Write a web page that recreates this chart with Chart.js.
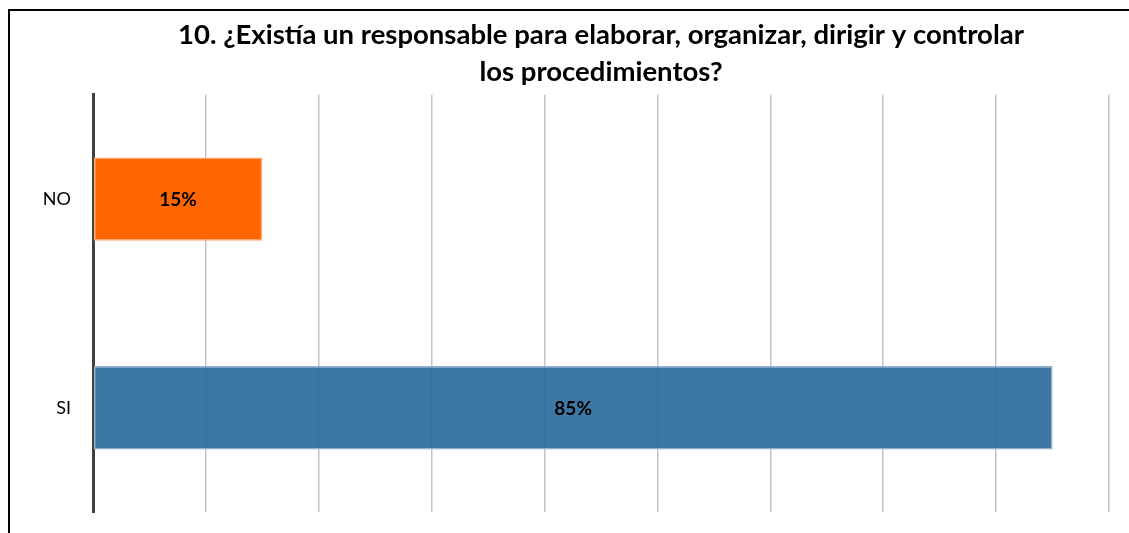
<!DOCTYPE html>
<html lang="es">
<head>
  <meta charset="UTF-8" />
  <title>Responsable de procedimientos</title>
  <script src="https://cdn.jsdelivr.net/npm/chart.js"></script>
  <style>
    html, body { margin: 0; padding: 0; background: #fff; overflow: hidden; }
    .frame {
      position: absolute;
      left: 8px; top: 9px;
      width: 1121px; height: 524px;
      border-top: 2px solid #000;
      border-left: 2px solid #000;
    }
    .chart-box {
      position: absolute;
      left: 0; top: 0;
      width: 1129px; height: 533px;
    }
  </style>
</head>
<body>
  <div class="frame"></div>
  <div class="chart-box">
    <canvas id="barChart" width="1129" height="533"></canvas>
  </div>

  <script>
    const categories = ['NO', 'SI'];
    const values = [15, 85];
    const barColors = ['#ff6600', 'rgba(45,109,157,0.92)'];
    const barBorders = ['#ffa675', '#8fb1cf'];
    const titleLines = [
      '10. ¿Existía un responsable para elaborar, organizar, dirigir y controlar',
      'los procedimientos?'
    ];

    const valueLabels = {
      id: 'valueLabels',
      afterDatasetsDraw(chart) {
        const ctx = chart.ctx;
        const meta = chart.getDatasetMeta(0);
        ctx.save();
        ctx.font = 'bold 19px Lato, "Open Sans", sans-serif';
        ctx.fillStyle = '#000';
        ctx.textAlign = 'center';
        ctx.textBaseline = 'middle';
        meta.data.forEach((bar, i) => {
          const x = (bar.base + bar.x) / 2;
          ctx.fillText(values[i] + '%', x, bar.y + 1);
        });
        ctx.restore();
      }
    };

    new Chart(document.getElementById('barChart'), {
      type: 'bar',
      data: {
        labels: categories,
        datasets: [{
          data: values,
          backgroundColor: barColors,
          borderColor: barBorders,
          borderWidth: 1.5,
          borderSkipped: false,
          barPercentage: 0.4,
          categoryPercentage: 1
        }]
      },
      options: {
        indexAxis: 'y',
        responsive: false,
        animation: false,
        layout: { padding: { left: 0, right: 20, top: 0, bottom: 0 } },
        plugins: {
          legend: { display: false },
          tooltip: { enabled: false },
          title: {
            display: true,
            text: titleLines,
            fullSize: false,
            color: '#000',
            font: { family: 'Lato, "Open Sans", sans-serif', size: 27.5, weight: 'bold', lineHeight: 1.36 },
            padding: { top: 16, bottom: 4 }
          }
        },
        scales: {
          x: {
            min: 0,
            max: 90,
            ticks: { display: false, stepSize: 10 },
            grid: { color: '#c4c4c4', lineWidth: 1.5, drawTicks: false },
            border: { display: false },
            afterFit(axis) { axis.height = 21; }
          },
          y: {
            ticks: {
              color: '#000',
              padding: 22,
              font: { family: 'Lato, "Open Sans", sans-serif', size: 18 }
            },
            grid: { display: false, drawTicks: false },
            border: { display: true, color: '#404040', width: 3 },
            afterFit(axis) {
              axis.width = 93;
              axis.paddingTop = 0;
              axis.paddingBottom = 0;
            }
          }
        }
      },
      plugins: [valueLabels]
    });
  </script>
</body>
</html>
